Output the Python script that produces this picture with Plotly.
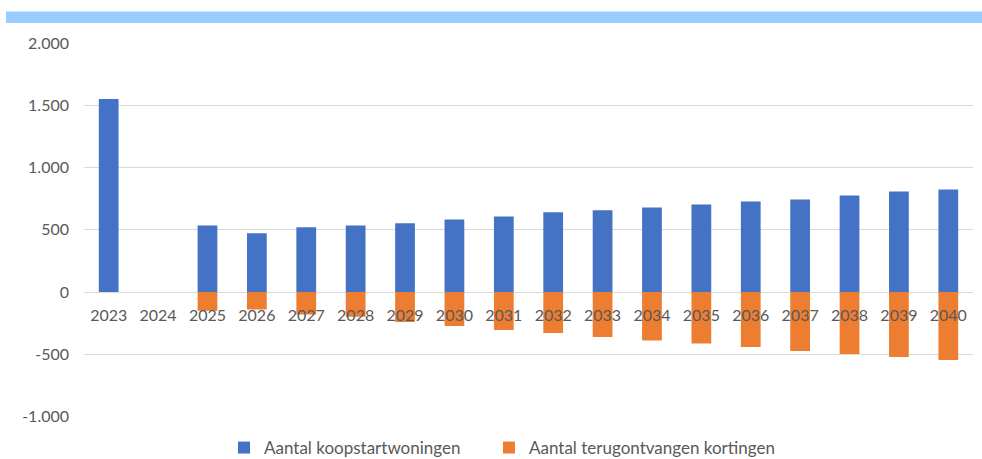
import plotly.graph_objects as go

years = [str(y) for y in range(2023, 2041)]
koopstart = [1550, 0, 535, 472, 520, 535, 552, 583, 607, 640, 656, 680, 704, 728, 744, 776, 808, 824]
kortingen = [0, 0, -150, -140, -180, -198, -241, -273, -305, -329, -361, -388, -414, -441, -474, -498, -522, -546]
y_tick_values = [-1000, -500, 0, 500, 1000, 1500, 2000]
y_tick_labels = ["-1.000", "-500", "0", "500", "1.000", "1.500", "2.000"]

W, H = 982, 459
m_top, m_left, m_right = 43, 84, 9
plot_bottom_px = 416.6
y_min, y_max = -1000, 2000
paper_h = H - m_top
d0 = (H - plot_bottom_px) / paper_h
zero_pos = d0 + (1 - d0) * (0 - y_min) / (y_max - y_min)

font_fam = "Lato, 'Open Sans', sans-serif"
txt_col = "#595959"

fig = go.Figure()
fig.add_trace(go.Bar(x=years, y=koopstart, name="Aantal koopstartwoningen",
                     marker=dict(color="#4472C4", line=dict(width=0)), legend="legend"))
fig.add_trace(go.Bar(x=years, y=kortingen, name="Aantal terugontvangen kortingen",
                     marker=dict(color="#ED7D31", line=dict(width=0)), legend="legend2"))

pw = W - m_left - m_right
leg_common = dict(orientation="h", xref="container", xanchor="left",
                  yref="container", y=(H - 448) / H, yanchor="middle",
                  font=dict(size=17, color=txt_col), itemwidth=30,
                  bgcolor="rgba(0,0,0,0)")
fig.update_layout(
    width=W, height=H,
    margin=dict(l=m_left, r=m_right, t=m_top, b=0, pad=0, autoexpand=False),
    barmode="relative", bargap=0.6,
    plot_bgcolor="white", paper_bgcolor="white",
    font=dict(family=font_fam, size=16, color=txt_col),
    showlegend=True,
    legend=dict(x=(249 - 25) / W, **leg_common),
    legend2=dict(x=(514 - 25) / W, **leg_common),
    xaxis=dict(type="category", showgrid=False, showline=False, zeroline=False,
               anchor="free", position=zero_pos, ticks="", ticklabelstandoff=12,
               tickfont=dict(size=16, color=txt_col)),
    yaxis=dict(domain=[d0, 1], range=[y_min, y_max],
               tickvals=y_tick_values, ticktext=y_tick_labels,
               showgrid=True, gridcolor="#D9D9D9", gridwidth=1,
               zeroline=True, zerolinecolor="#D9D9D9", zerolinewidth=1,
               showline=False, ticks="", ticklabelstandoff=14,
               tickfont=dict(size=16, color=txt_col)),
    shapes=[
        dict(type="rect", xref="paper", yref="paper",
             x0=-(m_left - 6) / pw, x1=1 + m_right / pw,
             y0=1 + (m_top - 23) / paper_h, y1=1 + (m_top - 11.5) / paper_h,
             fillcolor="#99CCFF", line=dict(width=0), layer="above"),
    ],
)

fig.write_html("out.html")
